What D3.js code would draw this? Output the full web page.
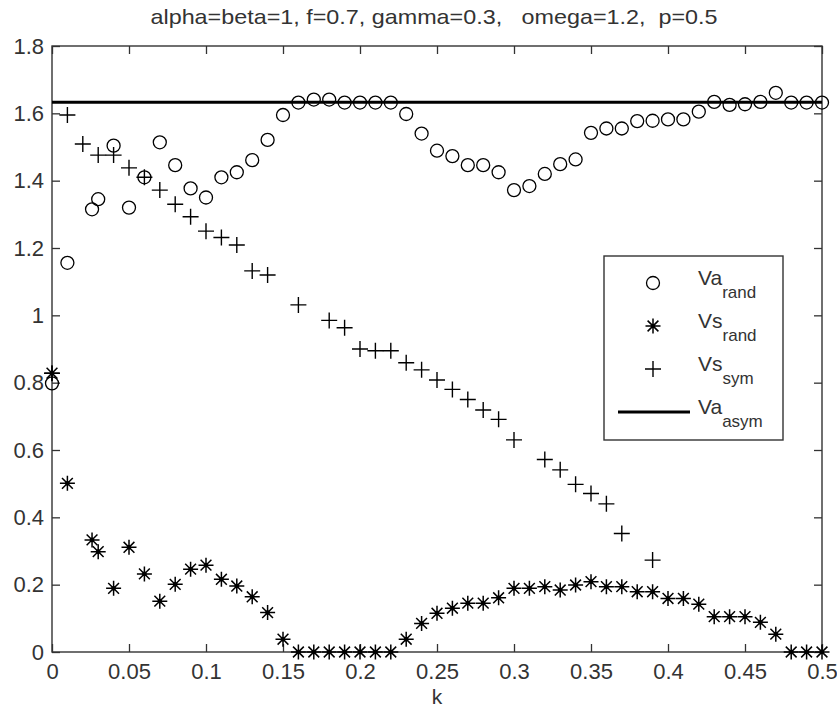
<!DOCTYPE html>
<html>
<head>
<meta charset="utf-8">
<script src="https://cdn.jsdelivr.net/npm/d3@7"></script>
<style>
  body { margin: 0; background: #fff; }
  text { font-family: "Liberation Sans", Arial, sans-serif; fill: #333; }
</style>
</head>
<body>
<div id="wrapper"></div>
<script>
// k values and series
const kVaRand = [0, 0.01, 0.026, 0.03, 0.04, 0.05, 0.06, 0.07, 0.08, 0.09, 0.1, 0.11, 0.12, 0.13, 0.14, 0.15, 0.16, 0.17, 0.18, 0.19, 0.2, 0.21, 0.22, 0.23, 0.24, 0.25, 0.26, 0.27, 0.28, 0.29, 0.3, 0.31, 0.32, 0.33, 0.34, 0.35, 0.36, 0.37, 0.38, 0.39, 0.4, 0.41, 0.42, 0.43, 0.44, 0.45, 0.46, 0.47, 0.48, 0.49, 0.5]
const vaRand = [0.798, 1.156, 1.315, 1.345, 1.504, 1.320, 1.410, 1.514, 1.446, 1.377, 1.350, 1.410, 1.425, 1.461, 1.521, 1.595, 1.632, 1.641, 1.641, 1.632, 1.632, 1.632, 1.632, 1.598, 1.540, 1.489, 1.473, 1.446, 1.446, 1.425, 1.372, 1.384, 1.420, 1.449, 1.463, 1.542, 1.555, 1.555, 1.577, 1.578, 1.582, 1.582, 1.605, 1.634, 1.625, 1.627, 1.634, 1.661, 1.632, 1.632, 1.632]

const kVsRand = kVaRand
const vsRand = [0.828, 0.501, 0.333, 0.298, 0.189, 0.311, 0.232, 0.151, 0.201, 0.246, 0.258, 0.216, 0.196, 0.164, 0.117, 0.038, 0, 0, 0, 0, 0, 0, 0, 0.038, 0.085, 0.115, 0.130, 0.145, 0.145, 0.161, 0.189, 0.189, 0.194, 0.184, 0.199, 0.209, 0.194, 0.194, 0.179, 0.179, 0.159, 0.159, 0.142, 0.105, 0.105, 0.105, 0.088, 0.053, 0, 0, 0]

const kVsSym = [0, 0.01, 0.02, 0.03, 0.04, 0.05, 0.06, 0.07, 0.08, 0.09, 0.1, 0.11, 0.12, 0.13, 0.14, 0.16, 0.18, 0.19, 0.2, 0.21, 0.22, 0.23, 0.24, 0.25, 0.26, 0.27, 0.28, 0.29, 0.3, 0.32, 0.33, 0.34, 0.35, 0.36, 0.37, 0.39]
const vsSym = [0.828, 1.595, 1.509, 1.476, 1.476, 1.438, 1.410, 1.372, 1.330, 1.293, 1.250, 1.231, 1.209, 1.132, 1.120, 1.031, 0.985, 0.963, 0.900, 0.895, 0.895, 0.859, 0.838, 0.808, 0.780, 0.750, 0.719, 0.691, 0.630, 0.572, 0.541, 0.498, 0.471, 0.440, 0.352, 0.273]

const vaAsym = 1.633

const xTicks = [0, 0.05, 0.1, 0.15, 0.2, 0.25, 0.3, 0.35, 0.4, 0.45, 0.5]
const xTickLabels = ["0", "0.05", "0.1", "0.15", "0.2", "0.25", "0.3", "0.35", "0.4", "0.45", "0.5"]
const yTicks = [0, 0.2, 0.4, 0.6, 0.8, 1, 1.2, 1.4, 1.6, 1.8]
const yTickLabels = ["0", "0.2", "0.4", "0.6", "0.8", "1", "1.2", "1.4", "1.6", "1.8"]

const title = "alpha=beta=1, f=0.7, gamma=0.3,   omega=1.2,  p=0.5"

const dimensions = {
  width: 837,
  height: 712,
  margin: { top: 46, right: 15, bottom: 60, left: 52 }
}
dimensions.boundedWidth = dimensions.width - dimensions.margin.left - dimensions.margin.right
dimensions.boundedHeight = dimensions.height - dimensions.margin.top - dimensions.margin.bottom

const xScale = d3.scaleLinear().domain([0, 0.5]).range([0, dimensions.boundedWidth])
const yScale = d3.scaleLinear().domain([0, 1.8]).range([dimensions.boundedHeight, 0])

const plusPath = s => `M${-s},0H${s}M0,${-s}V${s}`
const starPath = s => {
  const d = s * 0.72
  return plusPath(s) + `M${-d},${-d}L${d},${d}M${-d},${d}L${d},${-d}`
}

const wrapper = d3.select("#wrapper")
  .append("svg")
  .attr("width", dimensions.width)
  .attr("height", dimensions.height)

const bounds = wrapper.append("g")
  .attr("transform", `translate(${dimensions.margin.left},${dimensions.margin.top})`)

// axes, ticks pointing inward
const tick = 8
const xAxis = d3.axisBottom(xScale).tickValues(xTicks).tickFormat((d, i) => xTickLabels[i]).tickSizeInner(-tick).tickSizeOuter(0).tickPadding(11)
const yAxis = d3.axisLeft(yScale).tickValues(yTicks).tickFormat((d, i) => yTickLabels[i]).tickSizeInner(-tick).tickSizeOuter(0).tickPadding(8)

const styleAxis = g => {
  g.select(".domain").remove()
  g.selectAll("line").attr("stroke", "#333").attr("stroke-width", 1.3)
  g.selectAll("text").attr("font-size", 22).attr("fill", "#333").attr("font-family", "Liberation Sans, Arial, sans-serif")
}

bounds.append("g").attr("transform", `translate(0,${dimensions.boundedHeight})`).call(xAxis).call(styleAxis)
bounds.append("g").call(yAxis).call(styleAxis)
bounds.append("g").call(d3.axisTop(xScale).tickValues(xTicks).tickFormat("").tickSizeInner(-tick).tickSizeOuter(0)).call(styleAxis)
bounds.append("g").attr("transform", `translate(${dimensions.boundedWidth},0)`)
  .call(d3.axisRight(yScale).tickValues(yTicks).tickFormat("").tickSizeInner(-tick).tickSizeOuter(0)).call(styleAxis)

bounds.append("rect")
  .attr("width", dimensions.boundedWidth)
  .attr("height", dimensions.boundedHeight)
  .attr("fill", "none")
  .attr("stroke", "#333")
  .attr("stroke-width", 1.4)

// Va_asym line
bounds.append("line")
  .attr("x1", xScale(0)).attr("x2", xScale(0.5))
  .attr("y1", yScale(vaAsym)).attr("y2", yScale(vaAsym))
  .attr("stroke", "#000").attr("stroke-width", 3)

// Va_rand circles
bounds.selectAll(".va-rand").data(kVaRand.map((k, i) => [k, vaRand[i]])).join("circle")
  .attr("class", "va-rand")
  .attr("cx", d => xScale(d[0]))
  .attr("cy", d => yScale(d[1]))
  .attr("r", 6.5)
  .attr("fill", "none")
  .attr("stroke", "#000")
  .attr("stroke-width", 1.3)

// Vs_rand stars
bounds.selectAll(".vs-rand").data(kVsRand.map((k, i) => [k, vsRand[i]])).join("path")
  .attr("class", "vs-rand")
  .attr("transform", d => `translate(${xScale(d[0])},${yScale(d[1])})`)
  .attr("d", starPath(7.5))
  .attr("fill", "none")
  .attr("stroke", "#000")
  .attr("stroke-width", 1.5)

bounds.selectAll(".vs-rand-dot").data(kVsRand.map((k, i) => [k, vsRand[i]])).join("circle")
  .attr("class", "vs-rand-dot")
  .attr("cx", d => xScale(d[0]))
  .attr("cy", d => yScale(d[1]))
  .attr("r", 2.3)
  .attr("fill", "#000")

// Vs_sym plus
bounds.selectAll(".vs-sym").data(kVsSym.map((k, i) => [k, vsSym[i]])).join("path")
  .attr("class", "vs-sym")
  .attr("transform", d => `translate(${xScale(d[0])},${yScale(d[1])})`)
  .attr("d", plusPath(8))
  .attr("fill", "none")
  .attr("stroke", "#000")
  .attr("stroke-width", 1.4)

// title and x label
wrapper.append("text")
  .attr("x", dimensions.margin.left + dimensions.boundedWidth / 2 - 3)
  .attr("y", 24)
  .attr("text-anchor", "middle")
  .attr("font-size", 21)
  .attr("textLength", 567)
  .attr("lengthAdjust", "spacingAndGlyphs")
  .style("white-space", "pre")
  .text(title)

wrapper.append("text")
  .attr("x", dimensions.margin.left + dimensions.boundedWidth / 2)
  .attr("y", 704)
  .attr("text-anchor", "middle")
  .attr("font-size", 21)
  .text("k")

// legend
const legend = wrapper.append("g").attr("transform", "translate(604,256)")
legend.append("rect")
  .attr("width", 179).attr("height", 184)
  .attr("fill", "#fff").attr("stroke", "#333").attr("stroke-width", 1.4)

const legendItems = [
  { main: "Va", sub: "rand", mark: "circle" },
  { main: "Vs", sub: "rand", mark: "star" },
  { main: "Vs", sub: "sym", mark: "plus" },
  { main: "Va", sub: "asym", mark: "line" }
]

legendItems.forEach((item, i) => {
  const cy = 27 + i * 43
  const g = legend.append("g").attr("transform", `translate(0,${cy})`)
  if (item.mark === "circle") {
    g.append("circle").attr("cx", 49).attr("r", 6.5).attr("fill", "none").attr("stroke", "#000").attr("stroke-width", 1.3)
  } else if (item.mark === "star") {
    g.append("path").attr("transform", "translate(49,0)").attr("d", starPath(7.5)).attr("fill", "none").attr("stroke", "#000").attr("stroke-width", 1.5)
    g.append("circle").attr("cx", 49).attr("r", 2.3).attr("fill", "#000")
  } else if (item.mark === "plus") {
    g.append("path").attr("transform", "translate(49,0)").attr("d", plusPath(8)).attr("fill", "none").attr("stroke", "#000").attr("stroke-width", 1.4)
  } else {
    g.append("line").attr("x1", 14).attr("x2", 86).attr("stroke", "#000").attr("stroke-width", 3)
  }
  const t = g.append("text").attr("x", 94).attr("y", 2).attr("font-size", 21)
  t.append("tspan").text(item.main)
  t.append("tspan").attr("font-size", 17).attr("dy", 13).text(item.sub)
})
</script>
</body>
</html>
